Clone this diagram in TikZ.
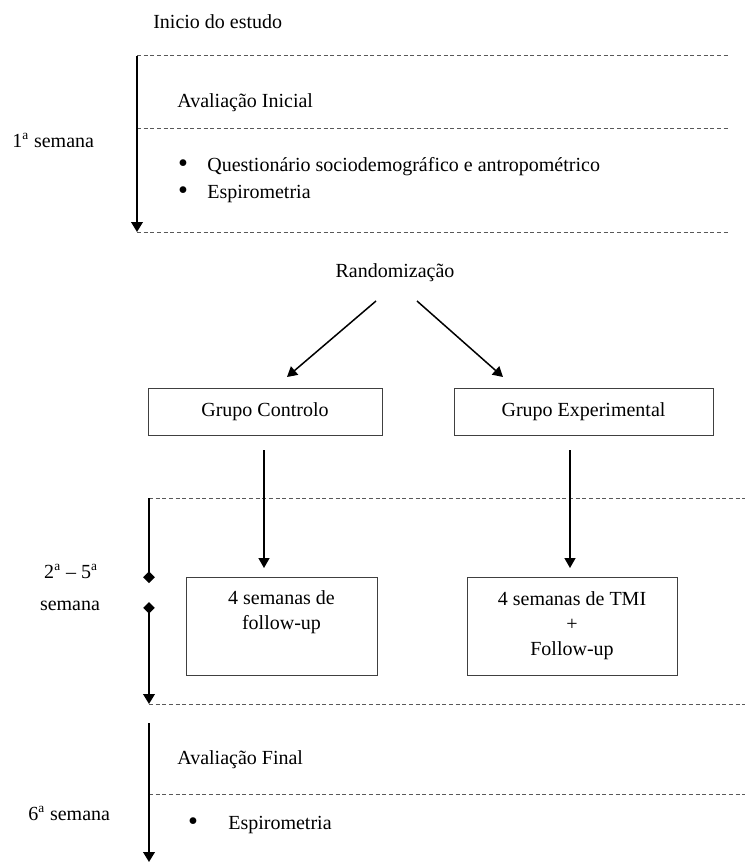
\documentclass[tikz,border=0pt]{standalone}
\usepackage{fontspec}
\setmainfont{Liberation Serif}
\usetikzlibrary{arrows.meta}

\tikzset{
  txt/.style={inner sep=0pt, font=\fontsize{12}{15}\selectfont},
  dot/.style={inner sep=0pt, font=\fontsize{17}{15}\selectfont},
  stage/.style={txt, draw=black!75, line width=0.6pt, align=center},
  flow/.style={line width=0.9pt, -{Triangle[length=6pt,width=6.6pt]}},
  timeline/.style={line width=1pt, -{Triangle[length=6pt,width=7pt]}},
  sep/.style={black!65, line width=0.6pt, dash pattern=on 2.4pt off 1.6pt}
}

\begin{document}
\begin{tikzpicture}[x=0.6pt,y=-0.6pt]
    \useasboundingbox (0,0) rectangle (747,863);
    \draw [sep] (137,56)--(728,56);
    \draw [sep] (137,128)--(728,128);
    \draw [sep] (137,232)--(728,232);
    \draw [sep] (149,498)--(745,498);
    \draw [sep] (149,704)--(745,704);
    \draw [sep] (149,794)--(745,794);
    \coordinate (w1s) at (137,56);
    \coordinate (w1e) at (137,232);
    \coordinate (w2s) at (149,498);
    \coordinate (w2m) at (149,583);
    \coordinate (w3s) at (149,602);
    \coordinate (w3e) at (149,704);
    \coordinate (w4s) at (149,723);
    \coordinate (w4e) at (149,862);
    \draw [timeline] (w1s)--(w1e);
    \draw [line width=1pt, -{Diamond[length=7pt,width=7pt]}] (w2s)--(w2m);
    \draw [line width=1pt, {Diamond[length=7pt,width=7pt]}-{Triangle[length=6pt,width=7pt]}] (w3s)--(w3e);
    \draw [timeline] (w4s)--(w4e);
    \node [txt, anchor=base west] (start) at (153,29) {Inicio do estudo};
    \node [txt, anchor=base west] (evalin) at (177,108) {Avaliação Inicial};
    \node [dot, anchor=base] (b1) at (183,172) {\textbullet};
    \node [txt, anchor=base west] (quest) at (207,171) {Questionário sociodemográfico e antropométrico};
    \node [dot, anchor=base] (b2) at (183,199) {\textbullet};
    \node [txt, anchor=base west] (spiro) at (207,198) {Espirometria};
    \node [txt, anchor=base west] (wk1) at (12,147) {1\textsuperscript{a} semana};
    \node [txt, anchor=base] (rand) at (395,277) {Randomização};
    \node [stage, minimum width=140.4pt, minimum height=28.2pt] (ctrl) at (265,411.5) {Grupo Controlo};
    \node [stage, minimum width=155.4pt, minimum height=28.2pt] (expt) at (583.5,411.5) {Grupo Experimental};
    \node [stage, minimum width=114.6pt, minimum height=58.8pt] (fupc) at (281.5,626) {4 semanas de\\follow-up\\\strut};
    \node [stage, minimum width=126pt, minimum height=58.8pt] (fupe) at (572,626) {4 semanas de TMI\\+\\Follow-up};
    \node [txt, anchor=base] (wk2a) at (71,578) {2\textsuperscript{a} -- 5\textsuperscript{a}};
    \node [txt, anchor=base] (wk2b) at (70,610) {semana};
    \node [txt, anchor=base west] (evalfin) at (177,764) {Avaliação Final};
    \node [dot, anchor=base] (b3) at (193,830) {\textbullet};
    \node [txt, anchor=base west] (spirofin) at (228,829) {Espirometria};
    \node [txt, anchor=base west] (wk6) at (28,820) {6\textsuperscript{a} semana};
    \draw [flow] ([shift={(-19,24)}]rand.base) -- ([shift={(22,-34.5)}]ctrl.center);
    \draw [flow] ([shift={(22,24)}]rand.base) -- ([shift={(-80.5,-34.5)}]expt.center);
    \draw [flow] ([shift={(-1,38.5)}]ctrl.center) -- ([shift={(-17.5,-58)}]fupc.center);
    \draw [flow] ([shift={(-13.5,38.5)}]expt.center) -- ([shift={(-2,-58)}]fupe.center);
\end{tikzpicture}
\end{document}
